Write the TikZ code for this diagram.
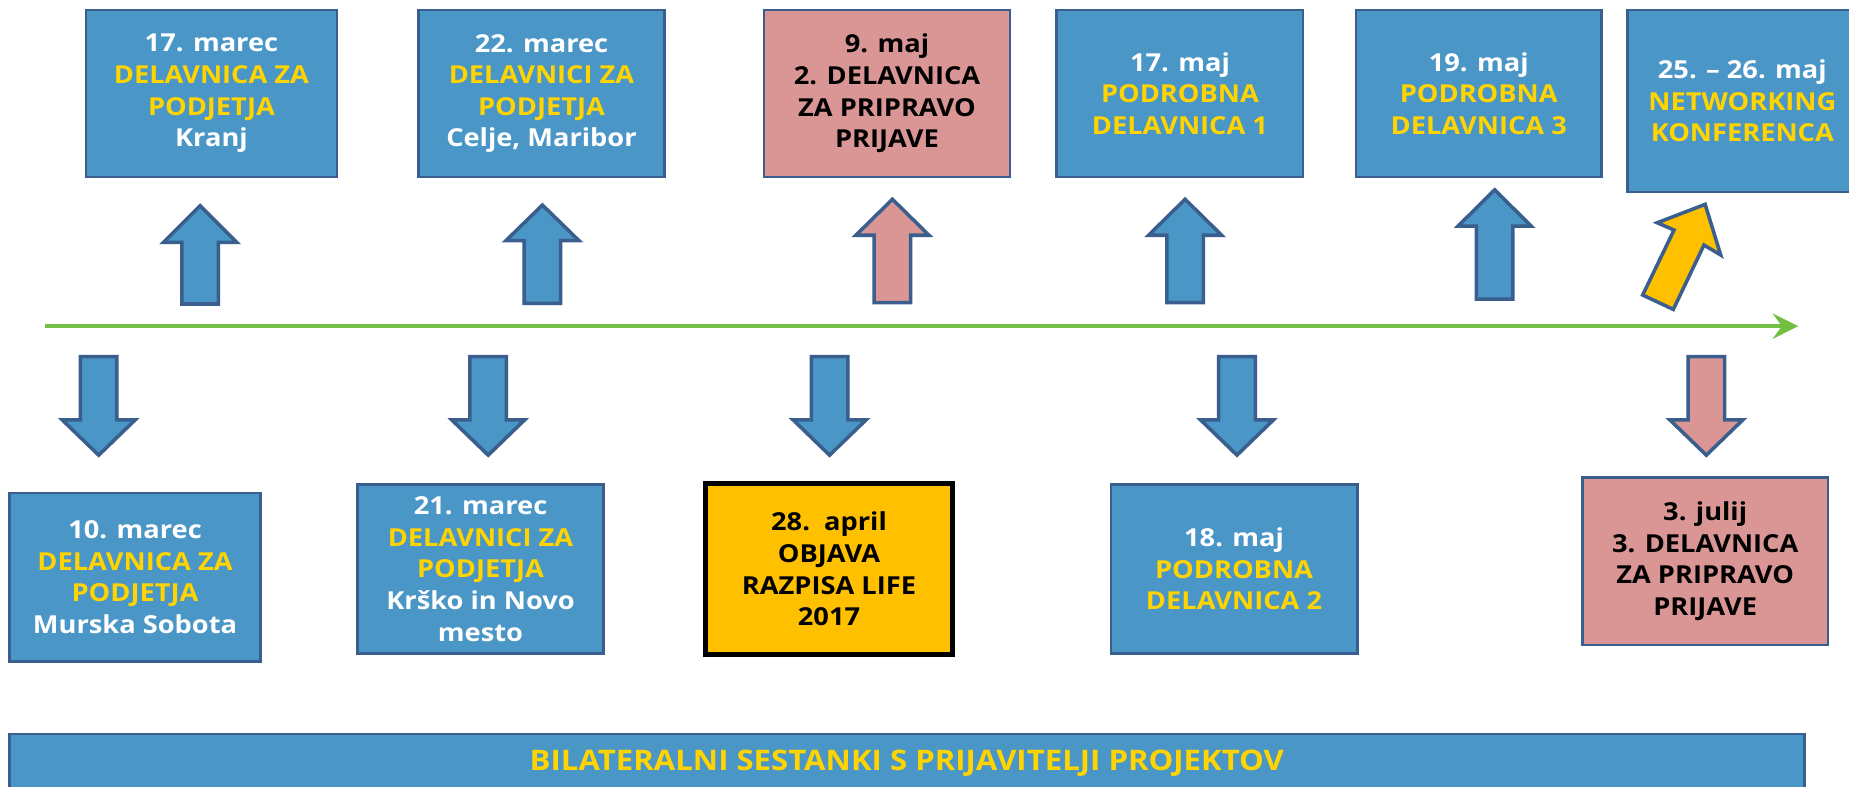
\documentclass[tikz,border=0pt]{standalone}
\usepackage{fontspec}
\setmainfont{Open Sans}[FakeStretch=1.1]
\definecolor{boxblue}{HTML}{4A96C7}
\definecolor{edgeblue}{HTML}{3A5F8E}
\definecolor{boxpink}{HTML}{D99694}
\definecolor{boxgold}{HTML}{FFC000}
\definecolor{txtgold}{HTML}{FFD400}
\definecolor{linegreen}{HTML}{72BF44}
\newcommand\boxfont{\fontsize{10.5}{13.4}\selectfont\bfseries}
\newcommand\barfont{\fontsize{12}{14}\selectfont\bfseries}
\newcommand\gold[1]{\textcolor{txtgold}{#1}}
\tikzset{
  infobox/.style={draw=edgeblue, line width=1.1pt, fill=boxblue, inner sep=0pt,
    align=center, font=\boxfont, text=white},
  pinkbox/.style={infobox, fill=boxpink, text=black},
  goldbox/.style={infobox, draw=black, line width=2pt, fill=boxgold, text=black},
  barbox/.style={infobox, font=\barfont},
  bluearrow/.style={draw=edgeblue, line width=1.5pt, fill=boxblue, line join=miter},
  pinkarrow/.style={bluearrow, fill=boxpink},
  goldarrow/.style={bluearrow, fill=boxgold},
  timeline/.style={draw=linegreen, line width=1.6pt},
}
% up arrow: style, centre x, tip y, head base y, bottom y
\newcommand\uparr[5]{%
  \draw[#1] ({#2-15.5},#5) -- ({#2-15.5},#4) -- ({#2-31},#4) -- (#2,#3)
    -- ({#2+31},#4) -- ({#2+15.5},#4) -- ({#2+15.5},#5) -- cycle;}
% down arrow: style, centre x, top y, head base y, tip y
\newcommand\downarr[5]{%
  \draw[#1] ({#2-15.5},#3) -- ({#2-15.5},#4) -- ({#2-31},#4) -- (#2,#5)
    -- ({#2+31},#4) -- ({#2+15.5},#4) -- ({#2+15.5},#3) -- cycle;}
\begin{document}
\begin{tikzpicture}[x=0.5pt,y=-0.5pt]
\useasboundingbox (0,0) rectangle (1568,666.6);
\clip (0,0) rectangle (1568,666.6);
\fill[white] (0,0) rectangle (1568,666.6);

% top boxes
\node[infobox, minimum width=106.5pt, minimum height=70.75pt] (t1) at (179.3,79.25)
  {17. marec\\\gold{DELAVNICA ZA}\\\gold{PODJETJA}\\Kranj};
\node[infobox, minimum width=104.5pt, minimum height=70.75pt] (t2) at (459.2,79.25)
  {22. marec\\\gold{DELAVNICI ZA}\\\gold{PODJETJA}\\Celje, Maribor};
\node[pinkbox, minimum width=104.35pt, minimum height=70.75pt] (t3) at (752.2,79.25)
  {9. maj\\2. DELAVNICA\\ZA PRIPRAVO\\PRIJAVE};
\node[infobox, minimum width=104.5pt, minimum height=70.75pt] (t4) at (1000.6,79.25)
  {17. maj\\\gold{PODROBNA}\\\gold{DELAVNICA 1}};
\node[infobox, minimum width=104pt, minimum height=70.75pt] (t5) at (1254,79.25)
  {19. maj\\\gold{PODROBNA}\\\gold{DELAVNICA 3}};
\node[infobox, minimum width=97.5pt, minimum height=77.25pt] (t6) at (1477.5,85.75)
  {25. – 26. maj\\\gold{NETWORKING}\\\gold{KONFERENCA}};

% up arrows
\uparr{bluearrow}{169.7}{174.4}{205.5}{257.8}
\uparr{bluearrow}{460}{173.9}{204.1}{257.3}
\uparr{pinkarrow}{756.8}{169}{199.5}{256.7}
\uparr{bluearrow}{1005}{169}{199.5}{256.7}
\uparr{bluearrow}{1267.5}{161}{191.7}{253.6}
\draw[goldarrow] (1446,173.3) -- (1459.2,216.3) -- (1445,207.8) -- (1419,262.4)
  -- (1393,250.2) -- (1419.6,195.1) -- (1405.4,188.9) -- cycle;

% timeline
\coordinate (ls) at (38,276.6);
\coordinate (le) at (1512,276.6);
\draw[timeline] (ls) -- (le);
\fill[linegreen] (1525,276.6) -- (1503,265.6) -- (1511,276.6) -- (1503,287.6) -- cycle;

% down arrows
\downarr{bluearrow}{83.7}{302.5}{356}{386}
\downarr{bluearrow}{414}{302.5}{356}{386}
\downarr{bluearrow}{703.5}{302.5}{356}{386}
\downarr{bluearrow}{1049}{302.5}{356}{386}
\downarr{pinkarrow}{1447}{302.5}{356}{386}

% bottom boxes
\node[infobox, minimum width=106.5pt, minimum height=71.5pt] (b1) at (114.5,489.5)
  {10. marec\\\gold{DELAVNICA ZA}\\\gold{PODJETJA}\\Murska Sobota};
\node[infobox, minimum width=104.5pt, minimum height=71.5pt] (b2) at (407.5,482.5)
  {21. marec\\\gold{DELAVNICI ZA}\\\gold{PODJETJA}\\Krško in Novo\\mesto};
\node[goldbox, minimum width=105pt, minimum height=72.5pt] (b3) at (703,482.5)
  {28.\ \ april\\OBJAVA\\RAZPISA LIFE\\2017};
\node[infobox, minimum width=104.5pt, minimum height=71.5pt] (b4) at (1046.5,482.5)
  {18. maj\\\gold{PODROBNA}\\\gold{DELAVNICA 2}};
\node[pinkbox, minimum width=104pt, minimum height=71pt] (b5) at (1446,476)
  {3. julij\\3. DELAVNICA\\ZA PRIPRAVO\\PRIJAVE};

% bottom bar
\node[barbox, minimum width=761pt, minimum height=25pt] (bar) at (769,647.5)
  {\gold{BILATERALNI SESTANKI S PRIJAVITELJI PROJEKTOV}};
\end{tikzpicture}
\end{document}
